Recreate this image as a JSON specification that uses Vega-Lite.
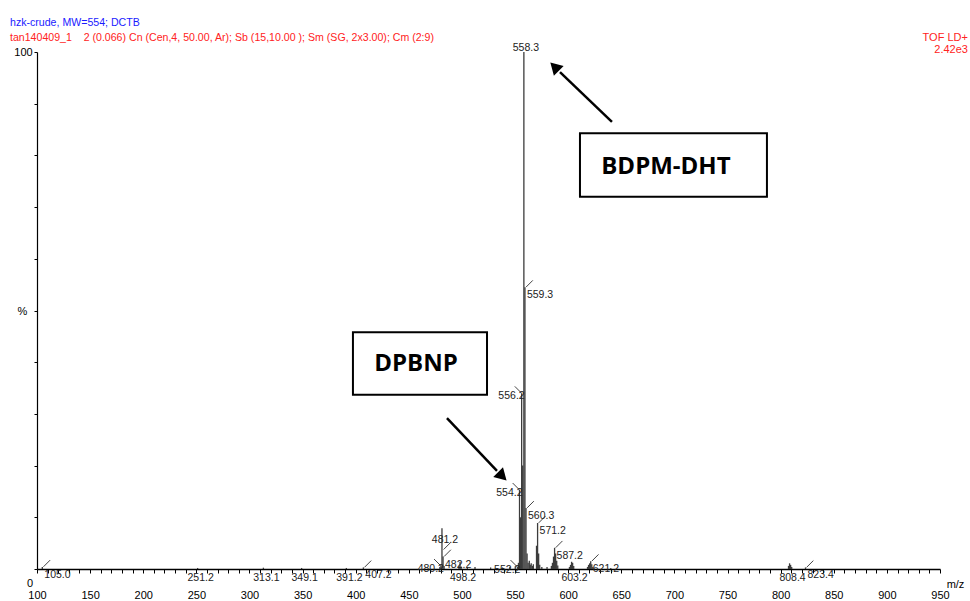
{
  "$schema": "https://vega.github.io/schema/vega-lite/v6.json",
  "autosize": {"type": "none"},
  "width": 903,
  "height": 517,
  "padding": {"left": 37, "top": 52, "right": 30, "bottom": 32},
  "background": "white",
  "title": {
    "text": "hzk-crude, MW=554; DCTB",
    "subtitle": "tan140409_1\u00a0\u00a0\u00a0\u00a02 (0.066) Cn (Cen,4, 50.00, Ar); Sb (15,10.00 ); Sm (SG, 2x3.00); Cm (2:9)",
    "anchor": "start",
    "frame": "group",
    "dx": -27,
    "offset": -12,
    "font": "Liberation Sans",
    "fontSize": 10.6,
    "fontWeight": "normal",
    "color": "#1a1aff",
    "subtitleFont": "Liberation Sans",
    "subtitleFontSize": 10.6,
    "subtitleColor": "#ff2222",
    "subtitlePadding": 4.5
  },
  "datasets": {
    "peaks": [
      {"mz": 105.0, "intensity": 0.4},
      {"mz": 251.2, "intensity": 0.2},
      {"mz": 313.1, "intensity": 0.25},
      {"mz": 349.1, "intensity": 0.2},
      {"mz": 391.2, "intensity": 0.2},
      {"mz": 407.2, "intensity": 0.3},
      {"mz": 479.2, "intensity": 0.4},
      {"mz": 480.2, "intensity": 0.6},
      {"mz": 481.2, "intensity": 7.9},
      {"mz": 482.2, "intensity": 2.4},
      {"mz": 483.2, "intensity": 0.6},
      {"mz": 497.2, "intensity": 0.6},
      {"mz": 498.2, "intensity": 1.4},
      {"mz": 499.2, "intensity": 0.5},
      {"mz": 505.1, "intensity": 0.3},
      {"mz": 512.3, "intensity": 0.4},
      {"mz": 527.0, "intensity": 0.3},
      {"mz": 538.2, "intensity": 0.3},
      {"mz": 545.1, "intensity": 0.4},
      {"mz": 550.2, "intensity": 0.5},
      {"mz": 552.2, "intensity": 0.4},
      {"mz": 553.2, "intensity": 1.2},
      {"mz": 554.2, "intensity": 15.3},
      {"mz": 555.2, "intensity": 10.0},
      {"mz": 556.2, "intensity": 34.0},
      {"mz": 557.2, "intensity": 20.0},
      {"mz": 558.3, "intensity": 100.0},
      {"mz": 559.3, "intensity": 54.5},
      {"mz": 560.3, "intensity": 11.8},
      {"mz": 561.3, "intensity": 3.0},
      {"mz": 562.3, "intensity": 1.2},
      {"mz": 563.4, "intensity": 1.6},
      {"mz": 564.3, "intensity": 0.8},
      {"mz": 565.2, "intensity": 1.1},
      {"mz": 566.3, "intensity": 0.6},
      {"mz": 567.2, "intensity": 0.9},
      {"mz": 570.2, "intensity": 4.5},
      {"mz": 571.2, "intensity": 8.9},
      {"mz": 572.2, "intensity": 3.0},
      {"mz": 573.2, "intensity": 0.8},
      {"mz": 575.2, "intensity": 0.4},
      {"mz": 580.1, "intensity": 0.4},
      {"mz": 584.2, "intensity": 0.6},
      {"mz": 585.2, "intensity": 1.2},
      {"mz": 586.2, "intensity": 2.4},
      {"mz": 587.2, "intensity": 4.1},
      {"mz": 588.2, "intensity": 3.0},
      {"mz": 589.2, "intensity": 1.6},
      {"mz": 590.2, "intensity": 0.7},
      {"mz": 601.2, "intensity": 0.4},
      {"mz": 602.2, "intensity": 0.8},
      {"mz": 603.2, "intensity": 1.4},
      {"mz": 604.2, "intensity": 1.2},
      {"mz": 605.2, "intensity": 0.6},
      {"mz": 618.2, "intensity": 0.4},
      {"mz": 619.2, "intensity": 0.8},
      {"mz": 620.2, "intensity": 1.1},
      {"mz": 621.2, "intensity": 1.5},
      {"mz": 622.2, "intensity": 0.9},
      {"mz": 623.2, "intensity": 0.4},
      {"mz": 640.1, "intensity": 0.2},
      {"mz": 807.4, "intensity": 0.6},
      {"mz": 808.4, "intensity": 1.1},
      {"mz": 809.4, "intensity": 0.8},
      {"mz": 810.4, "intensity": 0.4},
      {"mz": 823.4, "intensity": 0.3}
    ]
  },
  "config": {
    "view": {"stroke": null},
    "font": "Liberation Sans"
  },
  "layer": [
    {
      "data": {"name": "peaks"},
      "mark": {"type": "rule", "color": "#3c3c3c", "strokeWidth": 1.3},
      "encoding": {
        "x": {
          "field": "mz", "type": "quantitative",
          "scale": {"domain": [100, 950], "nice": false, "zero": false},
          "axis": {
            "values": [100,110,120,130,140,150,160,170,180,190,200,210,220,230,240,250,260,270,280,290,300,310,320,330,340,350,360,370,380,390,400,410,420,430,440,450,460,470,480,490,500,510,520,530,540,550,560,570,580,590,600,610,620,630,640,650,660,670,680,690,700,710,720,730,740,750,760,770,780,790,800,810,820,830,840,850,860,870,880,890,900,910,920,930,940,950],
            "tickCount": 500,
            "labelExpr": "datum.value % 50 === 0 ? '' + datum.value : ''",
            "labelOverlap": false,
            "labelBound": false,
            "labelFlush": false,
            "grid": false,
            "domainColor": "#000000",
            "domainWidth": 1.5,
            "tickColor": "#000000",
            "tickSize": 4,
            "tickWidth": 1,
            "labelPadding": 16,
            "labelFont": "Liberation Sans",
            "labelFontSize": 11,
            "labelColor": "#000000",
            "title": "m/z",
            "titleFont": "Liberation Sans",
            "titleFontSize": 11,
            "titleFontWeight": "normal",
            "titleColor": "#000000",
            "titleX": 918,
            "titleY": 15,
            "titleAlign": "center",
            "titleBaseline": "middle"
          }
        },
        "y": {
          "field": "intensity", "type": "quantitative",
          "scale": {"domain": [0, 100], "nice": false, "zero": true},
          "axis": {
            "values": [0,10,20,30,40,50,60,70,80,90,100],
            "tickCount": 50,
            "labelExpr": "datum.value === 100 ? '100' : ''",
            "grid": false,
            "domainColor": "#000000",
            "domainWidth": 1.2,
            "tickColor": "#000000",
            "tickSize": 3,
            "labelAlign": "center",
            "labelBaseline": "middle",
            "labelPadding": 11,
            "labelFont": "Liberation Sans",
            "labelFontSize": 11,
            "labelColor": "#000000",
            "title": "%",
            "titleFont": "Liberation Sans",
            "titleFontSize": 11,
            "titleFontWeight": "normal",
            "titleColor": "#000000",
            "titleAngle": 0,
            "titleX": -15,
            "titleY": 259,
            "titleAlign": "center",
            "titleBaseline": "middle"
          }
        },
        "y2": {"datum": 0}
      }
    },
    {
      "data": {"name": "peaks"},
      "transform": [{"filter": {"field": "mz", "oneOf": [105.0, 407.2, 482.2, 559.3, 560.3, 571.2, 587.2, 621.2, 823.4]}}],
      "layer": [
        {
          "mark": {"type": "point", "shape": "stroke", "angle": 315, "size": 90, "stroke": "#222222", "strokeWidth": 0.8, "filled": false, "opacity": 1, "xOffset": 4.5, "yOffset": -3.5},
          "encoding": {
            "x": {"field": "mz", "type": "quantitative"},
            "y": {"field": "intensity", "type": "quantitative"}
          }
        },
        {
          "mark": {"type": "text", "align": "left", "baseline": "middle", "dx": 2, "dy": 8, "fontSize": 10.5, "color": "#222222"},
          "encoding": {
            "x": {"field": "mz", "type": "quantitative"},
            "y": {"field": "intensity", "type": "quantitative"},
            "text": {"field": "mz", "type": "quantitative", "format": ".1f"}
          }
        }
      ]
    },
    {
      "data": {"name": "peaks"},
      "transform": [{"filter": {"field": "mz", "oneOf": [480.2, 552.2, 554.2, 556.2]}}],
      "layer": [
        {
          "mark": {"type": "point", "shape": "stroke", "angle": 45, "size": 90, "stroke": "#222222", "strokeWidth": 0.8, "filled": false, "opacity": 1, "xOffset": -3.5, "yOffset": -3.5},
          "encoding": {
            "x": {"field": "mz", "type": "quantitative"},
            "y": {"field": "intensity", "type": "quantitative"}
          }
        },
        {
          "mark": {"type": "text", "align": "right", "baseline": "middle", "dx": 3, "dy": 3, "fontSize": 10.5, "color": "#222222"},
          "encoding": {
            "x": {"field": "mz", "type": "quantitative"},
            "y": {"field": "intensity", "type": "quantitative"},
            "text": {"field": "mz", "type": "quantitative", "format": ".1f"}
          }
        }
      ]
    },
    {
      "data": {"name": "peaks"},
      "transform": [{"filter": {"field": "mz", "oneOf": [558.3]}}],
      "mark": {"type": "text", "align": "center", "baseline": "middle", "dx": 2, "dy": -4, "fontSize": 10.5, "color": "#222222"},
      "encoding": {
        "x": {"field": "mz", "type": "quantitative"},
        "y": {"field": "intensity", "type": "quantitative"},
        "text": {"field": "mz", "type": "quantitative", "format": ".1f"}
      }
    },
    {
      "data": {"name": "peaks"},
      "transform": [{"filter": {"field": "mz", "oneOf": [481.2]}}],
      "layer": [
        {
          "mark": {"type": "point", "shape": "stroke", "angle": 315, "size": 90, "stroke": "#222222", "strokeWidth": 0.8, "filled": false, "opacity": 1, "xOffset": 5, "yOffset": 18},
          "encoding": {
            "x": {"field": "mz", "type": "quantitative"},
            "y": {"field": "intensity", "type": "quantitative"}
          }
        },
        {
          "mark": {"type": "text", "align": "center", "baseline": "middle", "dx": 3, "dy": 12, "fontSize": 10.5, "color": "#222222"},
          "encoding": {
            "x": {"field": "mz", "type": "quantitative"},
            "y": {"field": "intensity", "type": "quantitative"},
            "text": {"field": "mz", "type": "quantitative", "format": ".1f"}
          }
        }
      ]
    },
    {
      "data": {"name": "peaks"},
      "transform": [{"filter": {"field": "mz", "oneOf": [251.2, 313.1, 349.1, 391.2, 498.2, 603.2, 808.4]}}],
      "mark": {"type": "text", "align": "center", "baseline": "middle", "dx": 3, "dy": 9, "fontSize": 10.5, "color": "#222222"},
      "encoding": {
        "x": {"field": "mz", "type": "quantitative"},
        "y": {"datum": 0, "type": "quantitative"},
        "text": {"field": "mz", "type": "quantitative", "format": ".1f"}
      }
    },
    {
      "data": {"values": [{}]},
      "mark": {"type": "text", "align": "center", "baseline": "middle", "dx": -7, "dy": 15, "fontSize": 11, "color": "#000000"},
      "encoding": {
        "x": {"datum": 100, "type": "quantitative"},
        "y": {"datum": 0, "type": "quantitative"},
        "text": {"value": "0"}
      }
    },
    {
      "data": {"values": [{}]},
      "mark": {"type": "text", "align": "right", "baseline": "top", "lineHeight": 12, "fontSize": 11, "color": "#ff2222"},
      "encoding": {
        "x": {"datum": 976.3, "type": "quantitative"},
        "y": {"datum": 103.9, "type": "quantitative"},
        "text": {"value": ["TOF LD+", "2.42e3"]}
      }
    },
    {
      "data": {"values": [{}]},
      "mark": {"type": "rect", "fill": "white", "stroke": "#000000", "strokeWidth": 2},
      "encoding": {
        "x": {"datum": 611.1, "type": "quantitative"},
        "x2": {"datum": 787.1},
        "y": {"datum": 84.3, "type": "quantitative"},
        "y2": {"datum": 72.0}
      }
    },
    {
      "data": {"values": [{}]},
      "mark": {"type": "text", "align": "center", "baseline": "middle", "font": "Open Sans", "fontWeight": "bold", "fontSize": 24, "color": "#000000"},
      "encoding": {
        "x": {"datum": 692.0, "type": "quantitative"},
        "y": {"datum": 77.8, "type": "quantitative"},
        "text": {"value": "BDPM-DHT"}
      }
    },
    {
      "data": {"values": [{}]},
      "mark": {"type": "rect", "fill": "white", "stroke": "#000000", "strokeWidth": 2},
      "encoding": {
        "x": {"datum": 397.4, "type": "quantitative"},
        "x2": {"datum": 523.6},
        "y": {"datum": 45.8, "type": "quantitative"},
        "y2": {"datum": 33.7}
      }
    },
    {
      "data": {"values": [{}]},
      "mark": {"type": "text", "align": "center", "baseline": "middle", "font": "Open Sans", "fontWeight": "bold", "fontSize": 24, "color": "#000000"},
      "encoding": {
        "x": {"datum": 456.7, "type": "quantitative"},
        "y": {"datum": 39.7, "type": "quantitative"},
        "text": {"value": "DPBNP"}
      }
    },
    {
      "data": {"values": [{}]},
      "mark": {"type": "rule", "color": "#000000", "strokeWidth": 2.5},
      "encoding": {
        "x": {"datum": 641.2, "type": "quantitative"},
        "y": {"datum": 86.5, "type": "quantitative"},
        "x2": {"datum": 592.3},
        "y2": {"datum": 96.1}
      }
    },
    {
      "data": {"values": [{}]},
      "mark": {"type": "point", "shape": "triangle", "angle": 315, "size": 190, "filled": true, "color": "#000000", "opacity": 1},
      "encoding": {
        "x": {"datum": 588.5, "type": "quantitative"},
        "y": {"datum": 96.9, "type": "quantitative"}
      }
    },
    {
      "data": {"values": [{}]},
      "mark": {"type": "rule", "color": "#000000", "strokeWidth": 2.5},
      "encoding": {
        "x": {"datum": 485.9, "type": "quantitative"},
        "y": {"datum": 29.2, "type": "quantitative"},
        "x2": {"datum": 533.0},
        "y2": {"datum": 19.0}
      }
    },
    {
      "data": {"values": [{}]},
      "mark": {"type": "point", "shape": "triangle", "angle": 135, "size": 190, "filled": true, "color": "#000000", "opacity": 1},
      "encoding": {
        "x": {"datum": 536.7, "type": "quantitative"},
        "y": {"datum": 18.2, "type": "quantitative"}
      }
    }
  ]
}
